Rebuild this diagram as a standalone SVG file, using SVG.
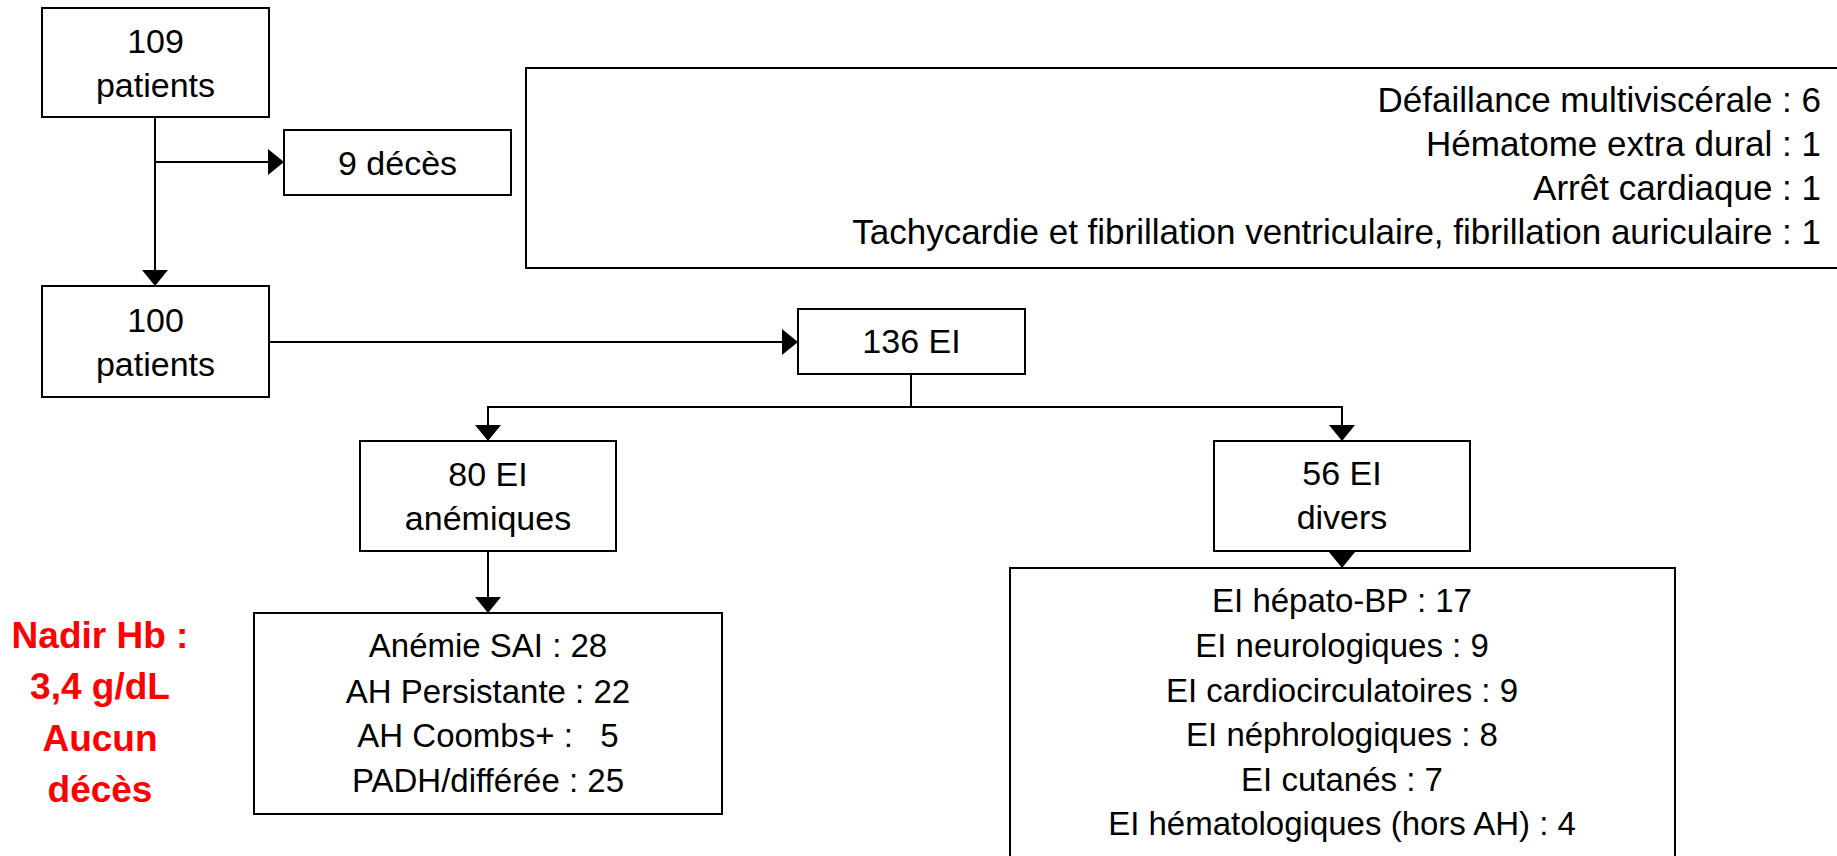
<svg xmlns="http://www.w3.org/2000/svg" width="1837" height="856" viewBox="0 0 1837 856">
<style>
.box{fill:#fff;stroke:#000;stroke-width:2}
.t{font-family:"Liberation Sans",Arial,sans-serif;font-size:34px;fill:#000;text-anchor:middle}
.l{font-family:"Liberation Sans",Arial,sans-serif;font-size:33px;fill:#000;text-anchor:middle}
.r{font-family:"Liberation Sans",Arial,sans-serif;font-size:35px;fill:#000;text-anchor:end}
.red{font-family:"Liberation Sans",Arial,sans-serif;font-size:37px;font-weight:bold;fill:#ff0000;text-anchor:middle}
.c{fill:none;stroke:#000;stroke-width:2}
</style>
<defs>
<marker id="ah" markerUnits="userSpaceOnUse" markerWidth="16" markerHeight="26" viewBox="0 0 16 26" refX="16" refY="13" orient="auto">
<path d="M0 0 L16 13 L0 26 Z" fill="#000"/>
</marker>
</defs>
<rect width="1837" height="856" fill="#fff"/>
<g id="connectors">
<path class="c" d="M155 117 V286" marker-end="url(#ah)"/>
<path class="c" d="M155 162 H284" marker-end="url(#ah)"/>
<path class="c" d="M269 342 H798" marker-end="url(#ah)"/>
<path class="c" d="M911 374 V407"/>
<path class="c" d="M488 407 H1342"/>
<path class="c" d="M488 406 V441" marker-end="url(#ah)"/>
<path class="c" d="M1342 406 V441" marker-end="url(#ah)"/>
<path class="c" d="M488 551 V613" marker-end="url(#ah)"/>
<path class="c" d="M1342 551 V568" marker-end="url(#ah)"/>
</g>
<g id="n109">
<rect class="box" x="42" y="8" width="227" height="109"/>
<text class="t" x="155.5" y="53">109</text>
<text class="t" x="155.5" y="97">patients</text>
</g>
<g id="deces">
<rect class="box" x="284" y="130" width="227" height="65"/>
<text class="t" x="397.5" y="175">9 décès</text>
</g>
<g id="causes">
<rect class="box" x="526" y="68" width="1330" height="200"/>
<text class="r" x="1821" y="112">Défaillance multiviscérale : 6</text>
<text class="r" x="1821" y="156">Hématome extra dural : 1</text>
<text class="r" x="1821" y="200">Arrêt cardiaque : 1</text>
<text class="r" x="1821" y="244">Tachycardie et fibrillation ventriculaire, fibrillation auriculaire : 1</text>
</g>
<g id="n100">
<rect class="box" x="42" y="286" width="227" height="111"/>
<text class="t" x="155.5" y="332">100</text>
<text class="t" x="155.5" y="376">patients</text>
</g>
<g id="ei136">
<rect class="box" x="798" y="309" width="227" height="65"/>
<text class="t" x="911.5" y="353">136 EI</text>
</g>
<g id="ei80">
<rect class="box" x="360" y="441" width="256" height="110"/>
<text class="t" x="488" y="486">80 EI</text>
<text class="t" x="488" y="530">anémiques</text>
</g>
<g id="ei56">
<rect class="box" x="1214" y="441" width="256" height="110"/>
<text class="t" x="1342" y="485">56 EI</text>
<text class="t" x="1342" y="529">divers</text>
</g>
<g id="anemies">
<rect class="box" x="254" y="613" width="468" height="201"/>
<text class="l" x="488" y="657">Anémie SAI : 28</text>
<text class="l" x="488" y="703">AH Persistante : 22</text>
<text class="l" x="488" y="747" xml:space="preserve" style="white-space:pre">AH Coombs+ :   5</text>
<text class="l" x="488" y="792">PADH/différée : 25</text>
</g>
<g id="divers">
<rect class="box" x="1010" y="568" width="665" height="320"/>
<text class="l" x="1342" y="612">EI hépato-BP : 17</text>
<text class="l" x="1342" y="657">EI neurologiques : 9</text>
<text class="l" x="1342" y="702">EI cardiocirculatoires : 9</text>
<text class="l" x="1342" y="746">EI néphrologiques : 8</text>
<text class="l" x="1342" y="791">EI cutanés : 7</text>
<text class="l" x="1342" y="835">EI hématologiques (hors AH) : 4</text>
</g>
<g id="nadir">
<text class="red" x="100" y="648">Nadir Hb :</text>
<text class="red" x="100" y="699">3,4 g/dL</text>
<text class="red" x="100" y="751">Aucun</text>
<text class="red" x="100" y="802">décès</text>
</g>
</svg>
